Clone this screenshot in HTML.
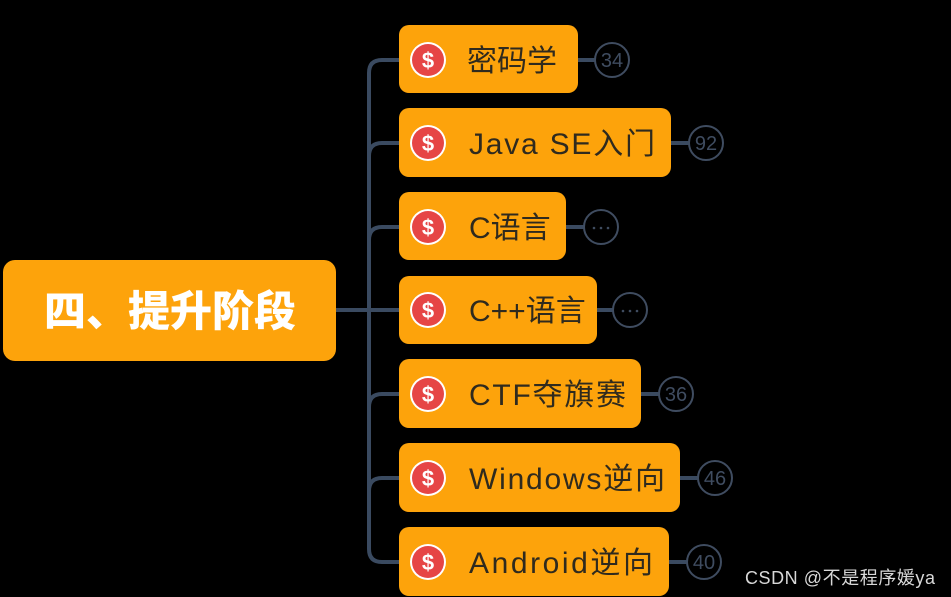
<!DOCTYPE html>
<html><head><meta charset="utf-8"><style>
html,body{margin:0;padding:0;background:#000;width:951px;height:597px;overflow:hidden}
svg{display:block}
.t{font-family:"Liberation Sans","Noto Sans CJK SC",sans-serif;font-size:30px;fill:#2f2a1e}
.b{font-family:"Liberation Sans","Noto Sans CJK SC",sans-serif;font-size:20px;fill:#3f4c60}
</style></head><body>
<svg width="951" height="597" viewBox="0 0 951 597" xmlns="http://www.w3.org/2000/svg">
<rect width="951" height="597" fill="#000"/>
<g stroke="#3a4a60" stroke-width="4" fill="none">
<path d="M336 310 H400"/>
<path d="M400 60 H382 Q369 60 369 73 V549 Q369 562 382 562 H400"/>
<path d="M369 156 Q369 143 382 143 H400"/>
<path d="M369 240 Q369 227 382 227 H400"/>
<path d="M369 407 Q369 394 382 394 H400"/>
<path d="M369 491 Q369 478 382 478 H400"/>
<path d="M578 60 H596"/><path d="M671 143 H689"/><path d="M566 227 H584"/>
<path d="M597 310 H613"/><path d="M641 394 H659"/><path d="M680 478 H698"/><path d="M669 562 H687"/>
</g>
<rect x="3" y="260" width="333" height="101" rx="12" fill="#fda30b"/>
<text x="44" y="326" font-family="'Liberation Sans','Noto Sans CJK SC',sans-serif" font-weight="900" font-size="42" fill="#fff" textLength="252">四、提升阶段</text>
<g fill="#fda30b">
<rect x="399" y="25" width="179" height="68" rx="10"/>
<rect x="399" y="108" width="272" height="69" rx="10"/>
<rect x="399" y="192" width="167" height="68" rx="10"/>
<rect x="399" y="276" width="198" height="68" rx="10"/>
<rect x="399" y="359" width="242" height="69" rx="10"/>
<rect x="399" y="443" width="281" height="69" rx="10"/>
<rect x="399" y="527" width="270" height="69" rx="10"/>
</g>
<g>
<g transform="translate(428,60)"><circle r="18" fill="#fff"/><circle r="16" fill="#e64545"/><text y="8" text-anchor="middle" font-family="'Liberation Sans',sans-serif" font-weight="bold" font-size="22" fill="#fff">$</text></g>
<g transform="translate(428,143)"><circle r="18" fill="#fff"/><circle r="16" fill="#e64545"/><text y="8" text-anchor="middle" font-family="'Liberation Sans',sans-serif" font-weight="bold" font-size="22" fill="#fff">$</text></g>
<g transform="translate(428,227)"><circle r="18" fill="#fff"/><circle r="16" fill="#e64545"/><text y="8" text-anchor="middle" font-family="'Liberation Sans',sans-serif" font-weight="bold" font-size="22" fill="#fff">$</text></g>
<g transform="translate(428,310)"><circle r="18" fill="#fff"/><circle r="16" fill="#e64545"/><text y="8" text-anchor="middle" font-family="'Liberation Sans',sans-serif" font-weight="bold" font-size="22" fill="#fff">$</text></g>
<g transform="translate(428,394)"><circle r="18" fill="#fff"/><circle r="16" fill="#e64545"/><text y="8" text-anchor="middle" font-family="'Liberation Sans',sans-serif" font-weight="bold" font-size="22" fill="#fff">$</text></g>
<g transform="translate(428,478)"><circle r="18" fill="#fff"/><circle r="16" fill="#e64545"/><text y="8" text-anchor="middle" font-family="'Liberation Sans',sans-serif" font-weight="bold" font-size="22" fill="#fff">$</text></g>
<g transform="translate(428,562)"><circle r="18" fill="#fff"/><circle r="16" fill="#e64545"/><text y="8" text-anchor="middle" font-family="'Liberation Sans',sans-serif" font-weight="bold" font-size="22" fill="#fff">$</text></g>
</g>
<text class="t" x="467" y="71">密码学</text>
<text class="t" x="469" y="154" textLength="186">Java SE入门</text>
<text class="t" x="469" y="238">C语言</text>
<text class="t" x="469" y="321">C++语言</text>
<text class="t" x="469" y="405" textLength="157">CTF夺旗赛</text>
<text class="t" x="469" y="489" textLength="196">Windows逆向</text>
<text class="t" x="469" y="573" textLength="184">Android逆向</text>
<g fill="none" stroke="#3f4c60" stroke-width="2">
<circle cx="612" cy="60" r="17"/><circle cx="706" cy="143" r="17"/><circle cx="601" cy="227" r="17"/>
<circle cx="630" cy="310" r="17"/><circle cx="676" cy="394" r="17"/><circle cx="715" cy="478" r="17"/><circle cx="704" cy="562" r="17"/>
</g>
<g fill="#3f4c60">
<circle cx="594" cy="228" r="1.3"/><circle cx="601" cy="228" r="1.3"/><circle cx="608" cy="228" r="1.3"/>
<circle cx="623" cy="311" r="1.3"/><circle cx="630" cy="311" r="1.3"/><circle cx="637" cy="311" r="1.3"/>
</g>
<text class="b" x="612" y="67" text-anchor="middle">34</text>
<text class="b" x="706" y="150" text-anchor="middle">92</text>
<text class="b" x="676" y="401" text-anchor="middle">36</text>
<text class="b" x="715" y="485" text-anchor="middle">46</text>
<text class="b" x="704" y="569" text-anchor="middle">40</text>
<text x="745" y="584" font-family="'Liberation Sans','Noto Sans CJK SC',sans-serif" font-size="18" fill="#d8d8d8" textLength="190">CSDN @不是程序媛ya</text>
</svg>
</body></html>
